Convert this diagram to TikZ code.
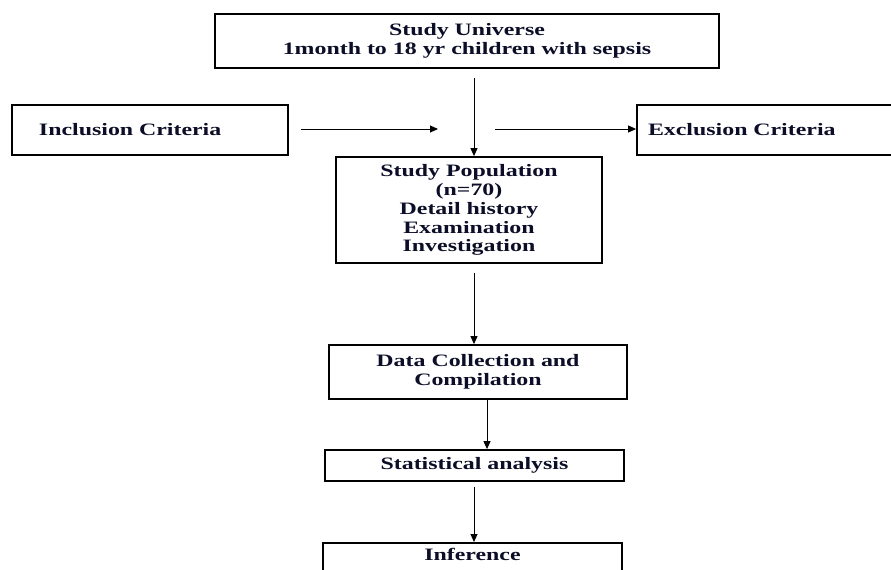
\documentclass[tikz,border=0pt]{standalone}
\usepackage{fontspec}
\setmainfont{Liberation Serif}[FakeStretch=1.37]
\usetikzlibrary{arrows.meta}
\definecolor{flowink}{RGB}{12,14,40}

\begin{document}
\begin{tikzpicture}[x=1bp, y=-1bp,
  box/.style={draw=black, line width=1.8bp, inner sep=0pt, text=flowink,
    font=\bfseries\fontsize{17.5}{19}\selectfont, align=center},
  flow/.style={-{Triangle[length=8bp,width=7bp]}, line width=0.9bp}]

  \useasboundingbox (0,0) rectangle (891,570);

  % === BOXES ===
  \node[box, minimum width=504bp, minimum height=54bp] (universe) at (467,41)
    {Study Universe\\1month to 18 yr children with sepsis};

  \node[box, minimum height=50bp, text width=222bp, inner xsep=27bp,
    align=left] (inclusion) at (150,130) {Inclusion Criteria};

  \node[box, minimum height=50bp, text width=236bp, inner xsep=11bp,
    align=left] (exclusion) at (766,130) {Exclusion Criteria};

  \node[box, minimum width=266bp, minimum height=106bp] (population)
    at (469,210)
    {Study Population\\(n=70)\\Detail history\\Examination\\Investigation};

  \node[box, minimum width=298bp, minimum height=54bp] (collection)
    at (478,372) {Data Collection and\\Compilation};

  \node[box, minimum width=299bp, minimum height=31bp] (analysis)
    at (474.5,465.5) {Statistical analysis};

  \node[box, minimum width=299bp, anchor=north, inner ysep=6bp,
    text height=12bp, text depth=24bp] (inference) at (472.5,542)
    {Inference};

  % === CONNECTORS ===
  \coordinate (drop) at (474,78);
  \coordinate (merge) at (438,129);
  \coordinate (split) at (495,129);

  \draw[flow] (drop) -- (drop |- population.north);
  \draw[flow] (inclusion.east) ++(12,-1) -- (merge);
  \draw[flow] (split) -- (split -| exclusion.west);

  \draw[flow] ([yshift=-9bp]population.south -| drop) -- (drop |- collection.north);
  \draw[flow] (487,399) coordinate (cstart) -- (cstart |- analysis.north);
  \draw[flow] ([yshift=-5bp]analysis.south -| drop) -- (drop |- inference.north);

\end{tikzpicture}
\end{document}
